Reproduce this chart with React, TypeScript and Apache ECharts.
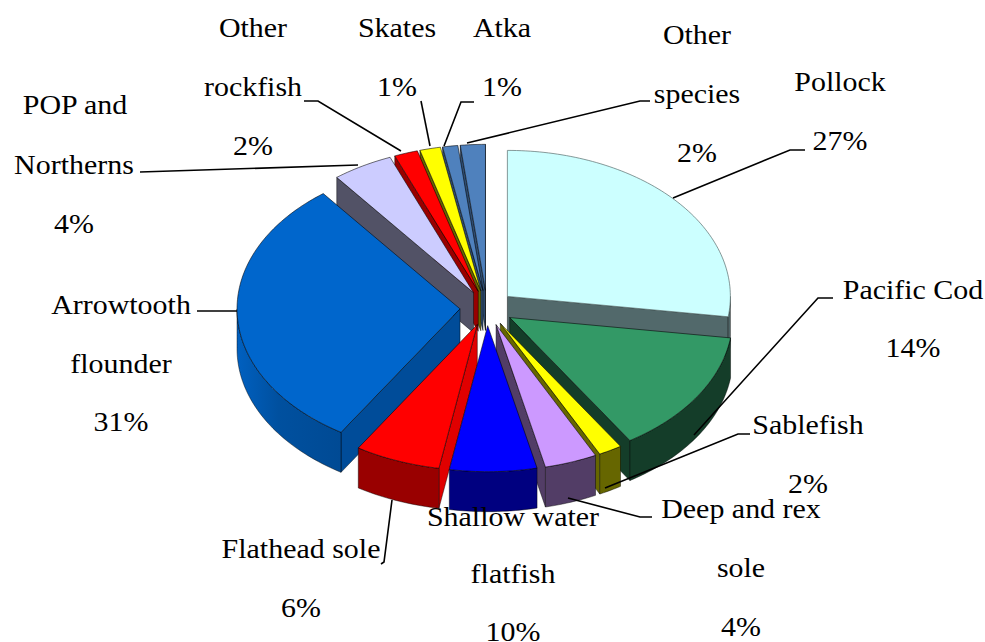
import React, { useEffect, useRef } from "react";
import * as echarts from "echarts";

const categories = ["Pollock", "Pacific Cod", "Sablefish", "Deep and rex sole", "Shallow water flatfish", "Flathead sole", "Arrowtooth flounder", "POP and Northerns", "Other rockfish", "Skates", "Atka", "Other species"];
const percentLabels = ["27%", "14%", "2%", "4%", "10%", "6%", "31%", "4%", "2%", "1%", "1%", "2%"];
// Share of the circle each slice visibly occupies in the drawing
const sliceValues = [27.2, 13.7, 1.7, 3.8, 6.3, 6.2, 30.5, 4.4, 1.7, 1.5, 1.1, 1.8];

const topColors = ["#CCFFFF", "#339966", "#FFFF00", "#CC99FF", "#0000FF", "#FF0000", "#0066CC", "#CCCCFF", "#FF0000", "#FFFF00", "#4F81BD", "#4F81BD"];
const outerWallColors = ["#52696B", "#143D29", "#666600", "#523D66", "#000080", "#990000", "#0055AA", "#525266", "#990000", "#666600", "#2F4D71", "#2F4D71"];
const startWallColors = ["#52696B", "#143D29", "#666600", "#523D66", "#000080", "#E00000", "#004C99", "#525266", "#990000", "#666600", "#2F4D71", "#2F4D71"];
const endWallColors = ["#52696B", "#143D29", "#666600", "#523D66", "#000080", "#990000", "#004C99", "#525266", "#990000", "#666600", "#1F3550", "#1F3550"];

const layout = { cx: 487, cy: 308, rx: 223, ry: 146, depth: 40, explode: 27 };

// label layout: centre x and the y centre of every line
const labelLines = [
  [["Pollock", 840, 81], ["27%", 840, 140]],
  [["Pacific Cod", 913, 289], ["14%", 913, 347]],
  [["Sablefish", 808, 424], ["2%", 808, 483]],
  [["Deep and rex", 741, 508], ["sole", 741, 567], ["4%", 741, 626]],
  [["Shallow water", 513, 516], ["flatfish", 513, 573], ["10%", 513, 631]],
  [["Flathead sole", 301, 548], ["6%", 301, 607]],
  [["Arrowtooth", 121, 304], ["flounder", 121, 363], ["31%", 121, 421]],
  [["POP and", 75, 104], ["Northerns", 74, 164], ["4%", 74, 223]],
  [["Other", 253, 27], ["rockfish", 253, 86], ["2%", 253, 145]],
  [["Skates", 397, 27], ["1%", 397, 86]],
  [["Atka", 502, 27], ["1%", 502, 86]],
  [["Other", 697, 34], ["species", 697, 93], ["2%", 697, 152]],
] as [string, number, number][][];

const leaderLines = [
  [[673, 198], [790, 150], [805, 150]],
  [[694, 435], [818, 298], [833, 298]],
  [[605, 488], [738, 434], [750, 434]],
  [[568, 498], [640, 517], [652, 517]],
  [[392, 500], [384, 562], [381, 564]],
  [[237, 311], [197, 311]],
  [[358, 165], [140, 172]],
  [[401, 151], [318, 101], [304, 101]],
  [[430, 146], [421, 101]],
  [[444, 146], [461, 102], [474, 102]],
  [[467, 143], [640, 101], [650, 101]],
];

const total = sliceValues.reduce((a, b) => a + b, 0);
const starts: number[] = [];
sliceValues.reduce((acc, v, i) => { starts[i] = acc; return acc + v; }, 0);
const toAngle = (v: number) => (v / total) * Math.PI * 2;

const drawOrder = sliceValues
  .map((v, i) => ({ i, y: -Math.cos(toAngle(starts[i] + v / 2)) }))
  .sort((a, b) => a.y - b.y)
  .map((d) => d.i);

function renderSlice(_params: any, api: any) {
  const idx = api.value(0) as number;
  const value = api.value(1) as number;
  const a0 = toAngle(starts[idx]);
  const a1 = a0 + toAngle(value);
  const mid = (a0 + a1) / 2;
  const { cx, cy, rx, ry, depth, explode } = layout;
  const ax = cx + (explode * rx / 223) * Math.sin(mid);
  const ay = cy - (explode * ry / 223) * Math.cos(mid);
  const rim = (a: number, h = 0): number[] => [ax + rx * Math.sin(a), ay - ry * Math.cos(a) + h];
  const arc = (from: number, to: number, h = 0) => {
    const n = Math.max(2, Math.ceil((to - from) * 48));
    const pts: number[][] = [];
    for (let k = 0; k <= n; k++) pts.push(rim(from + ((to - from) * k) / n, h));
    return pts;
  };
  const children: any[] = [];
  const edge = "rgba(0,0,0,0.55)";
  const wall = (points: number[][], fill: any) =>
    children.push({ type: "polygon", shape: { points }, style: { fill, stroke: edge, lineWidth: 0.8 } });

  // Radial side walls that face the viewer
  if (-Math.cos(a0 - Math.PI / 2) > 0) {
    const p = rim(a0);
    wall([[ax, ay], p, [p[0], p[1] + depth], [ax, ay + depth]], startWallColors[idx]);
  }
  if (-Math.cos(a1 + Math.PI / 2) > 0) {
    const p = rim(a1);
    wall([[ax, ay], p, [p[0], p[1] + depth], [ax, ay + depth]], endWallColors[idx]);
  }
  // Outer wall, front half of the rim only
  const from = Math.max(a0, Math.PI / 2);
  const to = Math.min(a1, (Math.PI * 3) / 2);
  if (to > from) {
    const top = arc(from, to);
    const bottom = arc(from, to, depth).reverse();
    const fill = idx === 6
      ? new echarts.graphic.LinearGradient(1, 0, 0, 0, [
          { offset: 0, color: "#004A94" },
          { offset: 0.6, color: "#00509F" },
          { offset: 1, color: "#0060C0" },
        ])
      : outerWallColors[idx];
    wall(top.concat(bottom), fill);
  }
  // Top face
  children.push({
    type: "polygon",
    shape: { points: [[ax, ay], ...arc(a0, a1)] },
    style: { fill: topColors[idx], stroke: idx === 0 ? "rgba(90,110,110,0.7)" : edge, lineWidth: 1 },
  });
  return { type: "group", children };
}

export default function App() {
  const ref = useRef<HTMLDivElement>(null);
  useEffect(() => {
    document.body.style.margin = "0";
    const chart = echarts.init(ref.current!, undefined, { renderer: "svg" });
    const texts: any[] = [];
    labelLines.forEach((lines) =>
      lines.forEach(([text, x, y]) =>
        texts.push({
          type: "text",
          x,
          y,
          scaleX: 1.07,
          z: 30,
          style: {
            text,
            fill: "#000",
            font: '28px "Liberation Serif"',
            textAlign: "center",
            textVerticalAlign: "middle",
          },
        })
      )
    );
    const leaders = leaderLines.map((points) => ({
      type: "polyline",
      z: 20,
      shape: { points },
      style: { stroke: "#000", lineWidth: 1.6, fill: "none" },
    }));
    chart.setOption({
      animation: false,
      backgroundColor: "#fff",
      graphic: { elements: [...leaders, ...texts] },
      series: [
        {
          type: "custom",
          coordinateSystem: "none",
          renderItem: renderSlice,
          clip: false,
          encode: { tooltip: 1, itemName: 2 },
          data: drawOrder.map((i) => [i, sliceValues[i], categories[i], percentLabels[i]]),
        },
      ],
    });
    return () => chart.dispose();
  }, []);
  return <div ref={ref} style={{ width: 985, height: 642 }} />;
}
